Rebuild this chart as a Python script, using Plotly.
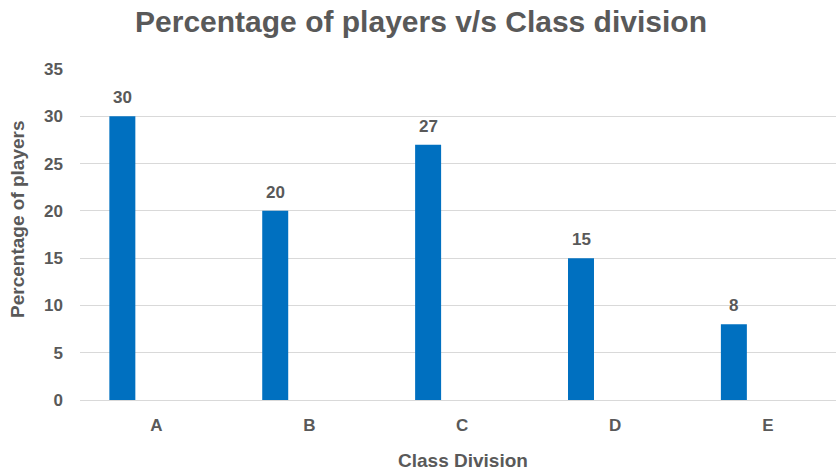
import plotly.graph_objects as go

categories = ["A", "B", "C", "D", "E"]
values = [30, 20, 27, 15, 8]
y_ticks = [0, 5, 10, 15, 20, 25, 30, 35]

gray = "#595959"
font_family = "Liberation Sans, Arial, sans-serif"
fig = go.Figure()
fig.add_trace(go.Bar(
    x=categories, y=values,
    marker=dict(color="#0070C0", line=dict(width=0)),
    width=0.17, offset=-0.308,
    hoverinfo="x+y",
))
for c, v in zip(categories, values):
    fig.add_annotation(x=c, y=v, text=f"<b>{v}</b>", showarrow=False,
                       xshift=-34, yanchor="bottom", yshift=7,
                       font=dict(family=font_family, size=17, color=gray))

fig.add_annotation(xref="paper", yref="paper", x=0.506, y=-0.184,
                   xanchor="center", yanchor="middle", showarrow=False,
                   text="<b>Class Division</b>",
                   font=dict(family=font_family, size=19, color=gray))
fig.add_annotation(xref="paper", yref="paper", x=-0.082, y=0.544,
                   xanchor="center", yanchor="middle", showarrow=False, textangle=-90,
                   text="<b>Percentage of players</b>",
                   font=dict(family=font_family, size=19, color=gray))

fig.update_layout(
    width=836, height=473,
    margin=dict(l=80, r=0, t=69, b=73, autoexpand=False),
    paper_bgcolor="white", plot_bgcolor="white",
    showlegend=False,
    title=dict(text="<b>Percentage of players v/s Class division</b>",
               x=0.5036, xanchor="center", y=0.9535, yanchor="middle",
               font=dict(family=font_family, size=30, color=gray)),
    xaxis=dict(range=[-0.5, 4.445], showgrid=False, showline=False, ticks="",
               automargin=False, ticklabelstandoff=13,
               tickfont=dict(family=font_family, size=17, color=gray, weight="bold")),
    yaxis=dict(range=[0, 35], tickvals=y_ticks, showgrid=True, gridcolor="#D9D9D9", gridwidth=1,
               zeroline=True, zerolinecolor="#D9D9D9", zerolinewidth=1,
               ticks="", ticklabelstandoff=16, automargin=False,
               tickfont=dict(family=font_family, size=17, color=gray, weight="bold")),
)
fig.write_html("out.html", config={"displayModeBar": False},
               post_script="document.body.style.margin='0';")
